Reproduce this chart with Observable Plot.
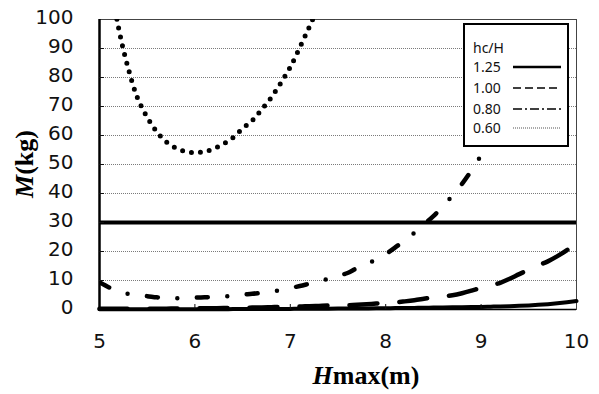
<!DOCTYPE html>
<html>
<head>
<meta charset="utf-8">
<script src="https://cdn.jsdelivr.net/npm/d3@7"></script>
<script src="https://cdn.jsdelivr.net/npm/@observablehq/plot@0.6"></script>
<style>
  html, body { margin: 0; padding: 0; background: #fff; }
  #wrap { position: relative; width: 599px; height: 394px; overflow: hidden; }
  #chart svg { display: block; }
  #legend { position: absolute; left: 463px; top: 23px; width: 106px; height: 124px; box-sizing: border-box;
            border: 2px solid #000; background: #fff; font-family: "Noto Sans", "Liberation Sans", sans-serif; font-size: 14px; color: #111; }
  #legend .row { position: absolute; left: 8px; height: 16px; line-height: 16px; white-space: nowrap; }
  #legend svg { position: absolute; left: 48px; }
</style>
</head>
<body>
<div id="wrap">
  <div id="chart"></div>
</div>
<script>
// ---- data ----
const hmax = [5.0,5.1,5.2,5.3,5.4,5.5,5.6,5.7,5.8,5.9,6.0,6.1,6.2,6.3,6.4,6.5,6.6,6.7,6.8,6.9,7.0,7.1,7.2,7.3,7.4,7.5,7.6,7.7,7.8,7.9,8.0,8.1,8.2,8.3,8.4,8.5,8.6,8.7,8.8,8.9,9.0,9.1,9.2,9.3,9.4,9.5,9.6,9.7,9.8,9.9,10.0];

const m125 = [0.05,0.05,0.05,0.05,0.06,0.06,0.07,0.07,0.08,0.09,0.1,0.1,0.11,0.12,0.13,0.14,0.15,0.17,0.18,0.2,0.21,0.23,0.25,0.27,0.29,0.31,0.33,0.35,0.38,0.41,0.45,0.48,0.52,0.56,0.6,0.65,0.7,0.75,0.8,0.85,0.9,0.98,1.06,1.15,1.26,1.4,1.6,1.85,2.15,2.5,2.9];

const m100 = [0.3,0.3,0.3,0.3,0.3,0.3,0.3,0.3,0.35,0.35,0.4,0.4,0.45,0.5,0.55,0.6,0.65,0.7,0.8,0.9,0.95,1.0,1.15,1.25,1.35,1.4,1.45,1.6,1.8,2.05,2.25,2.45,2.8,3.2,3.7,4.2,4.5,4.9,5.6,6.5,7.5,8.3,9.2,10.6,12.2,13.7,15.2,16.6,18.4,20.5,23.0];

const m080 = [9.4,7.6,6.2,5.4,4.9,4.6,4.2,4.0,3.9,4.0,4.1,4.2,4.3,4.5,4.7,5.1,5.4,5.8,6.2,6.7,7.4,8.1,8.9,9.7,10.6,11.6,12.6,14.3,15.7,17.3,19.1,21.4,23.9,26.4,29.3,32.2,35.6,39.3,43.3,48.0,53.2,59.0,65.5,72.5,80.0,88.5,97.5,null,null,null,null];

const m060 = [140,117,97.1,83.3,72.8,66.3,61.3,57.8,55.7,54.5,54.1,54.4,55.5,57.1,59.3,62.4,65.1,69.0,73.1,78.1,83.6,90.4,97.5,105,113,null,null,null,null,null,null,null,null,null,null,null,null,null,null,null,null,null,null,null,null,null,null,null,null,null,null];

const limitM = [30];                 // horizontal limit line
const xTicks = [5, 6, 7, 8, 9, 10];
const yTicks = [0, 10, 20, 30, 40, 50, 60, 70, 80, 90, 100];
const xDomain = [5, 10];
const yDomain = [0, 100];
const hcH = ["1.25", "1.00", "0.80", "0.60"];
const legendTitle = "hc/H";

// ---- build rows ----
const rows = (ys) => hmax.map((h, i) => ({h, m: ys[i]}));

const chart = Plot.plot({
  width: 599,
  height: 394,
  marginLeft: 99,
  marginRight: 23,
  marginTop: 19,
  marginBottom: 85,
  style: {fontFamily: "DejaVu Sans, Verdana, sans-serif", fontSize: "20px", color: "#111", background: "#fff", overflow: "visible"},
  x: {domain: xDomain, label: null},
  y: {domain: yDomain, label: null},
  marks: [
    Plot.gridY(yTicks.slice(1, -1), {stroke: "#7a7a7a", strokeOpacity: 1, strokeDasharray: "1,1"}),
    Plot.frame({stroke: "#444", strokeWidth: 1}),
    Plot.ruleY(limitM, {stroke: "#000", strokeWidth: 4}),
    Plot.line(rows(m125), {x: "h", y: "m", stroke: "#000", strokeWidth: 4, curve: "catmull-rom"}),
    Plot.line(rows(m100), {x: "h", y: "m", stroke: "#000", strokeWidth: 4.5, strokeDasharray: "28,22", strokeLinecap: "round", curve: "catmull-rom"}),
    Plot.line(rows(m080), {x: "h", y: "m", stroke: "#000", strokeWidth: 4.5, strokeDasharray: "11,19.5,0,19.5", strokeLinecap: "round", curve: "catmull-rom", clip: true}),
    Plot.line(rows(m060), {x: "h", y: "m", stroke: "#000", strokeWidth: 5, strokeDasharray: "0,9", strokeLinecap: "round", curve: "catmull-rom", clip: true}),
    Plot.ruleX([xDomain[0]], {stroke: "#000", strokeWidth: 2.5}),
    Plot.ruleY([yDomain[0]], {stroke: "#000", strokeWidth: 1.5}),
    Plot.axisX(xTicks, {tickSize: 0, tickPadding: 24, label: null}),
    Plot.axisX(xTicks.slice(1, -1), {tickSize: 5, dy: -5, tickFormat: () => "", label: null}),
    Plot.axisY(yTicks, {tickSize: 0, tickPadding: 26, dy: -2, label: null}),
    Plot.axisY(yTicks.slice(1, -1), {tickSize: 5, dx: 5, tickFormat: () => "", label: null})
  ]
});

document.getElementById("chart").appendChild(chart);

// ---- axis titles (real text) ----
const svg = d3.select(chart);
const yt = svg.append("text")
  .attr("transform", "translate(33,164) rotate(-90)")
  .attr("text-anchor", "middle")
  .attr("font-family", "Liberation Serif, Times New Roman, serif")
  .attr("font-weight", "bold")
  .attr("font-size", 26)
  .attr("fill", "#000");
yt.append("tspan").attr("font-style", "italic").text("M");
yt.append("tspan").text("(kg)");

const xt = svg.append("text")
  .attr("x", 366).attr("y", 384)
  .attr("text-anchor", "middle")
  .attr("font-family", "Liberation Serif, Times New Roman, serif")
  .attr("font-weight", "bold")
  .attr("font-size", 26)
  .attr("fill", "#000");
xt.append("tspan").attr("font-style", "italic").text("H");
xt.append("tspan").text("max(m)");

// ---- legend ----
const legendStyles = [
  {w: 2.5, dash: null, color: "#000"},
  {w: 1.5, dash: "8,4", color: "#000"},
  {w: 1.5, dash: "9,3,2,3", color: "#000"},
  {w: 1.2, dash: "1,1", color: "#555"}
];
const lg = document.createElement("div");
lg.id = "legend";
const titleRow = document.createElement("div");
titleRow.className = "row";
titleRow.style.top = "15px";
titleRow.textContent = legendTitle;
lg.appendChild(titleRow);
const rowTops = [34, 55, 76, 95];
hcH.forEach((label, i) => {
  const r = document.createElement("div");
  r.className = "row";
  r.style.top = rowTops[i] + "px";
  r.textContent = label;
  lg.appendChild(r);
  const s = d3.create("svg").attr("width", 48).attr("height", 16)
    .style("top", rowTops[i] + "px").style("left", "48px").style("position", "absolute");
  s.append("line").attr("x1", 0).attr("x2", 48).attr("y1", 8).attr("y2", 8)
    .attr("stroke", legendStyles[i].color).attr("stroke-width", legendStyles[i].w)
    .attr("stroke-dasharray", legendStyles[i].dash);
  lg.appendChild(s.node());
});
document.getElementById("wrap").appendChild(lg);
</script>
</body>
</html>
